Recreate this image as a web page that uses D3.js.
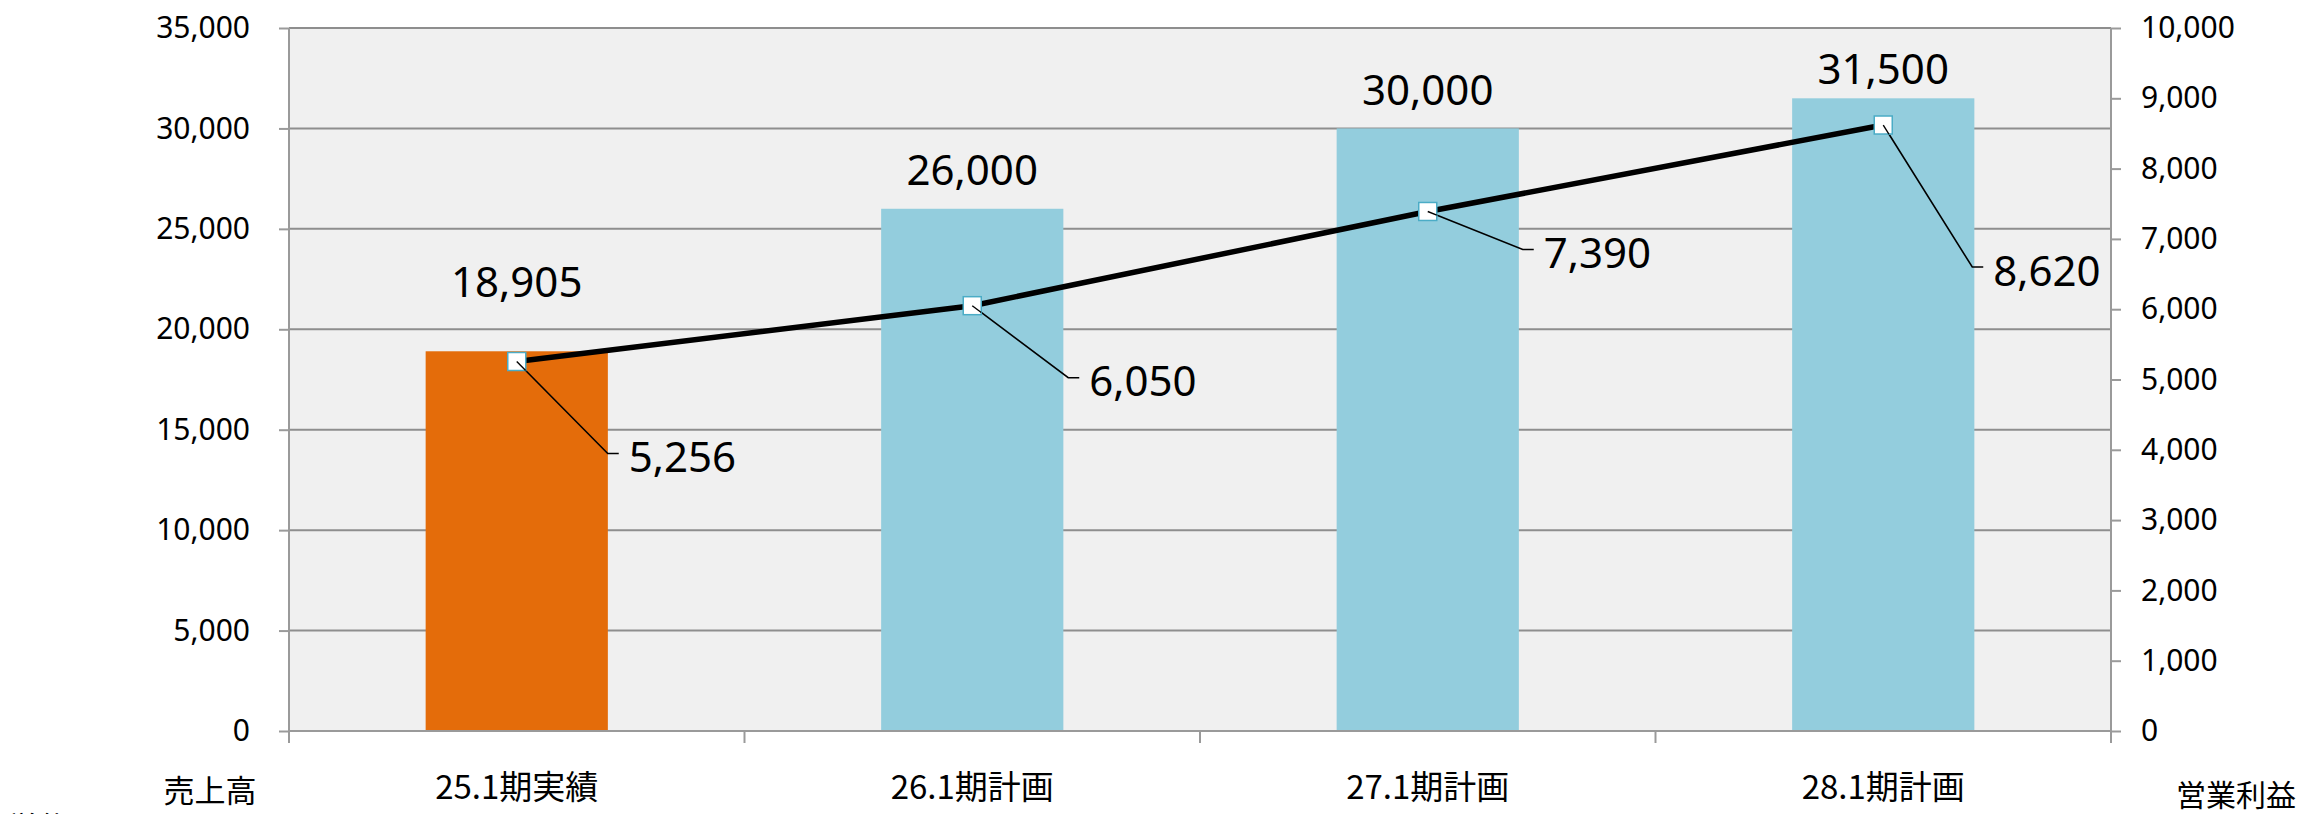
<!DOCTYPE html>
<html>
<head>
<meta charset="utf-8">
<script src="https://cdn.jsdelivr.net/npm/d3@7"></script>
<style>
  html, body { margin: 0; padding: 0; background: #ffffff; overflow: hidden; }
  svg { display: block; }
</style>
</head>
<body>
<svg id="chart" width="2305" height="814"></svg>
<script>
// ---- data ----
const categories = ["25.1期実績", "26.1期計画", "27.1期計画", "28.1期計画"];
const sales = [18905, 26000, 30000, 31500];          // 売上高 (left axis, bars)
const operatingProfit = [5256, 6050, 7390, 8620];    // 営業利益 (right axis, line)
const leftTicks = [0, 5000, 10000, 15000, 20000, 25000, 30000, 35000];
const rightTicks = [0, 1000, 2000, 3000, 4000, 5000, 6000, 7000, 8000, 9000, 10000];
const leftAxisTitle = "売上高";
const rightAxisTitle = "営業利益";
const unitNote = "単位：百万円";

// ---- layout (not data) ----
const W = 2305, H = 814;
const plot = { left: 289, right: 2111, top: 28, bottom: 731 };
const barColors = ["#E46C0A", "#93CDDD", "#93CDDD", "#93CDDD"];
const barLabelGap = [71, 40, 40, 31];               // label centre above bar top
const leaderOffsets = [[91, 92], [96, 72], [95, 38], [89, 142]]; // elbow from marker
const numFont = "'Noto Sans', 'DejaVu Sans', sans-serif";
const cjkFont = "'Noto Sans CJK JP', 'Noto Sans', sans-serif";

const svg = d3.select("#chart");
const fmt = d3.format(",");

const x = d3.scaleBand()
  .domain(categories)
  .range([plot.left, plot.right])
  .paddingInner(0.6)
  .paddingOuter(0.3);
const step = x.step();
const cx = c => x(c) + x.bandwidth() / 2;

const yL = d3.scaleLinear().domain([0, 35000]).range([plot.bottom, plot.top]);
const yR = d3.scaleLinear().domain([0, 10000]).range([plot.bottom, plot.top]);

// plot background
svg.append("rect")
  .attr("x", plot.left).attr("y", plot.top)
  .attr("width", plot.right - plot.left).attr("height", plot.bottom - plot.top)
  .attr("fill", "#F0F0F0");

// gridlines
svg.append("g").selectAll("line")
  .data(leftTicks.filter(d => d > 0))
  .join("line")
  .attr("x1", plot.left).attr("x2", plot.right)
  .attr("y1", d => yL(d)).attr("y2", d => yL(d))
  .attr("stroke", "#8E8E8E").attr("stroke-width", 2);

// bars
svg.append("g").selectAll("rect")
  .data(categories)
  .join("rect")
  .attr("x", d => x(d))
  .attr("y", (d, i) => yL(sales[i]))
  .attr("width", x.bandwidth())
  .attr("height", (d, i) => yL(0) - yL(sales[i]))
  .attr("fill", (d, i) => barColors[i]);

// left axis
const gL = svg.append("g")
  .attr("transform", `translate(${plot.left},0)`)
  .call(d3.axisLeft(yL).tickValues(leftTicks).tickFormat(fmt).tickSize(10).tickPadding(29).tickSizeOuter(0));
gL.select(".domain").remove();
gL.selectAll(".tick line").attr("stroke", "#9A9A9A").attr("stroke-width", 2);
gL.selectAll(".tick text").attr("font-family", numFont).attr("font-size", 30).attr("fill", "#000");
svg.append("line")
  .attr("x1", plot.left).attr("x2", plot.left)
  .attr("y1", plot.top).attr("y2", plot.bottom + 12)
  .attr("stroke", "#9A9A9A").attr("stroke-width", 2);

// right axis
const gR = svg.append("g")
  .attr("transform", `translate(${plot.right},0)`)
  .call(d3.axisRight(yR).tickValues(rightTicks).tickFormat(fmt).tickSize(10).tickPadding(20).tickSizeOuter(0));
gR.select(".domain").remove();
gR.selectAll(".tick line").attr("stroke", "#9A9A9A").attr("stroke-width", 2);
gR.selectAll(".tick text").attr("font-family", numFont).attr("font-size", 30).attr("fill", "#000");
svg.append("line")
  .attr("x1", plot.right).attr("x2", plot.right)
  .attr("y1", plot.top).attr("y2", plot.bottom + 12)
  .attr("stroke", "#9A9A9A").attr("stroke-width", 2);

// bottom axis
svg.append("line")
  .attr("x1", plot.left).attr("x2", plot.right)
  .attr("y1", plot.bottom).attr("y2", plot.bottom)
  .attr("stroke", "#9A9A9A").attr("stroke-width", 2);
const boundaries = categories.slice(1).map(c => cx(c) - step / 2);
svg.append("g").selectAll("line")
  .data(boundaries)
  .join("line")
  .attr("x1", d => d).attr("x2", d => d)
  .attr("y1", plot.bottom).attr("y2", plot.bottom + 12)
  .attr("stroke", "#9A9A9A").attr("stroke-width", 2);

// category labels
svg.append("g").selectAll("text")
  .data(categories)
  .join("text")
  .attr("x", d => cx(d))
  .attr("y", 785)
  .attr("text-anchor", "middle")
  .attr("dominant-baseline", "central")
  .attr("font-family", cjkFont).attr("font-size", 33).attr("fill", "#000")
  .text(d => d);

// axis titles
svg.append("text")
  .attr("x", 210).attr("y", 788)
  .attr("text-anchor", "middle").attr("dominant-baseline", "central")
  .attr("font-family", cjkFont).attr("font-size", 31).attr("fill", "#000")
  .text(leftAxisTitle);
svg.append("text")
  .attr("x", 2236).attr("y", 793)
  .attr("text-anchor", "middle").attr("dominant-baseline", "central")
  .attr("font-family", cjkFont).attr("font-size", 30).attr("fill", "#000")
  .text(rightAxisTitle);
svg.append("text")
  .attr("x", 8).attr("y", 838)
  .attr("font-family", cjkFont).attr("font-size", 30).attr("fill", "#000")
  .text(unitNote);

// bar labels
svg.append("g").selectAll("text")
  .data(categories)
  .join("text")
  .attr("x", d => cx(d))
  .attr("y", (d, i) => yL(sales[i]) - barLabelGap[i])
  .attr("text-anchor", "middle")
  .attr("dominant-baseline", "central")
  .attr("font-family", numFont).attr("font-size", 42).attr("fill", "#000")
  .text((d, i) => fmt(sales[i]));

// line
const linePts = categories.map((c, i) => [cx(c), yR(operatingProfit[i])]);
svg.append("path")
  .attr("d", d3.line()(linePts))
  .attr("fill", "none")
  .attr("stroke", "#000")
  .attr("stroke-width", 5.5)
  .attr("stroke-linejoin", "round");

// leader lines
const leaders = svg.append("g");
linePts.forEach(([px, py], i) => {
  const ex = px + leaderOffsets[i][0], ey = py + leaderOffsets[i][1];
  leaders.append("polyline")
    .attr("points", `${px},${py} ${ex},${ey} ${ex + 11},${ey}`)
    .attr("fill", "none").attr("stroke", "#000").attr("stroke-width", 1.6);
  leaders.append("text")
    .attr("x", ex + 21).attr("y", ey + 2)
    .attr("dominant-baseline", "central")
    .attr("font-family", numFont).attr("font-size", 42).attr("fill", "#000")
    .text(fmt(operatingProfit[i]));
});

// markers
svg.append("g").selectAll("rect")
  .data(linePts)
  .join("rect")
  .attr("x", d => d[0] - 9).attr("y", d => d[1] - 9)
  .attr("width", 18).attr("height", 18)
  .attr("fill", "#fff").attr("stroke", "#4BACC6").attr("stroke-width", 1.5);
// leader start drawn over marker (as in reference)
linePts.forEach(([px, py], i) => {
  const ex = px + leaderOffsets[i][0], ey = py + leaderOffsets[i][1];
  const t = 9 / Math.max(Math.abs(ex - px), Math.abs(ey - py));
  svg.append("line")
    .attr("x1", px).attr("y1", py)
    .attr("x2", px + (ex - px) * t).attr("y2", py + (ey - py) * t)
    .attr("stroke", "#000").attr("stroke-width", 1.4);
});
</script>
</body>
</html>
